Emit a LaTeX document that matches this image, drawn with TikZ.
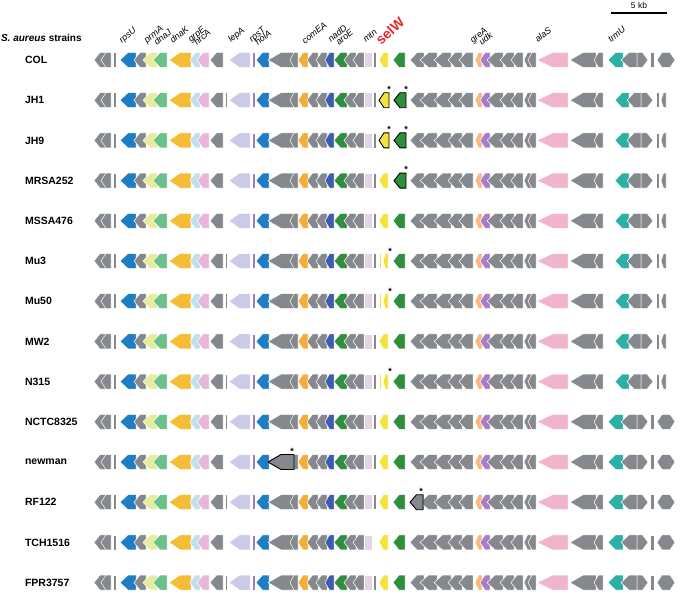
\documentclass[tikz,border=0pt]{standalone}
\usepackage{fontspec}
\setsansfont{Liberation Sans}
\usetikzlibrary{positioning,calc}
\definecolor{GeneGray}{HTML}{85888D}
\definecolor{GeneBlue}{HTML}{1F7DC4}
\definecolor{GeneLime}{HTML}{E6EC9C}
\definecolor{GeneMint}{HTML}{6CC18A}
\definecolor{GeneGold}{HTML}{F5BD36}
\definecolor{GeneIce}{HTML}{BFE1EB}
\definecolor{GenePink}{HTML}{E8B6D6}
\definecolor{GeneLilac}{HTML}{CBCAE8}
\definecolor{GenePurple}{HTML}{9C7EC8}
\definecolor{GeneOrange}{HTML}{F2AE36}
\definecolor{GeneNavy}{HTML}{3D5CAD}
\definecolor{GeneGreen}{HTML}{2F8F3E}
\definecolor{GeneMauve}{HTML}{E3D5E8}
\definecolor{GeneYellow}{HTML}{F3E33B}
\definecolor{GenePeach}{HTML}{F8BA7C}
\definecolor{GeneViolet}{HTML}{A87CC8}
\definecolor{GeneRose}{HTML}{F0B5CC}
\definecolor{GeneTeal}{HTML}{2CB0A6}
\definecolor{SelRed}{HTML}{E8282E}
\tikzset{
    % gene arrows
    gene/.style={
        draw=white,
        line width=0.5pt,
        line join=miter
    },
    gene mutant/.style={
        draw=black,
        line width=0.9pt
    },
    strain/.style={
        anchor=west,
        font=\sffamily\bfseries\fontsize{10.5}{12}\selectfont
    },
    gene label/.style={
        anchor=base west,
        rotate=40,
        inner sep=0pt,
        font=\sffamily\itshape\fontsize{9}{10}\selectfont
    },
    star mark/.style={
        inner sep=0pt,
        font=\sffamily\bfseries\fontsize{9}{9}\selectfont
    }
}
% left-pointing gene: [style]{x1}{x2}{y}{colour}
\newcommand{\gene}[5][]{%
    \pgfmathsetmacro{\gh}{min(16,0.5*(#3-#2))}%
    \path[gene,fill=#5,#1] (#2,#4) -- (#2+\gh,#4-7.5) -- (#3,#4-7.5) -- (#3,#4+7.5) -- (#2+\gh,#4+7.5) -- cycle;}
% right-pointing gene
\newcommand{\rgene}[5][]{%
    \pgfmathsetmacro{\gh}{min(16,0.5*(#3-#2))}%
    \path[gene,fill=#5,#1] (#3,#4) -- (#3-\gh,#4-7.5) -- (#2,#4-7.5) -- (#2,#4+7.5) -- (#3-\gh,#4+7.5) -- cycle;}
\newcommand{\gbar}[4]{\path[gene,fill=#4] (#1,#3-7.5) rectangle (#2,#3+7.5);}
% genes shared by all strains
\newcommand{\corerow}[1]{%
    \gene{94}{106}{#1}{GeneGray}
    \gene{101}{111}{#1}{GeneGray}
    \gbar{113.5}{116.5}{#1}{GeneGray}
    \gene{120}{136}{#1}{GeneBlue}
    \gene{134}{146}{#1}{GeneGray}
    \gene{143}{157}{#1}{GeneLime}
    \gene{153}{167}{#1}{GeneMint}
    \gene{169}{191}{#1}{GeneGold}
    \gene{190}{200}{#1}{GeneIce}
    \gene{197}{209}{#1}{GenePink}
    \gene{210}{223}{#1}{GeneGray}
    \gene{229}{250}{#1}{GeneLilac}
    \gbar{252.5}{255.5}{#1}{GenePurple}
    \gene{256}{269}{#1}{GeneBlue}
    \gene{268}{294}{#1}{GeneGray}
    \gene{290}{298}{#1}{GeneGray}
    \gene{298}{308}{#1}{GeneOrange}
    \gene{307}{318}{#1}{GeneGray}
    \gene{316}{327}{#1}{GeneGray}
    \gene{325}{334}{#1}{GeneNavy}
    \gene{334}{347}{#1}{GeneGreen}
    \gene{344}{356}{#1}{GeneGray}
    \gene{353}{364}{#1}{GeneGray}
    \gbar{364}{372}{#1}{GeneMauve}
    \gene{410}{424}{#1}{GeneGray}
    \gene{420}{437}{#1}{GeneGray}
    \gene{434}{451}{#1}{GeneGray}
    \gene{448}{462}{#1}{GeneGray}
    \gene{459}{473}{#1}{GeneGray}
    \gene{475}{482}{#1}{GenePeach}
    \gene{480}{490}{#1}{GeneViolet}
    \gene{487}{503}{#1}{GeneGray}
    \gene{500}{514}{#1}{GeneGray}
    \gene{511}{523}{#1}{GeneGray}
    \gene{524}{531}{#1}{GeneGray}
    \gene{528}{536}{#1}{GeneGray}
    \gene{537}{568}{#1}{GeneRose}
    \gene{570}{596}{#1}{GeneGray}
    \gene{594}{603}{#1}{GeneGray}}
\newcommand{\lepbar}[1]{\gbar{225.5}{227.5}{#1}{GeneGray}}
\newcommand{\mtnbar}[1]{\gbar{373.5}{376}{#1}{GeneGray}}
\newcommand{\selW}[1]{\gene{379}{388}{#1}{GeneYellow}}
\newcommand{\selWfrag}[1]{\gbar{379}{381.5}{#1}{GeneYellow}\gene{383}{388}{#1}{GeneYellow}}
\newcommand{\nextgene}[1]{\gene{393}{405}{#1}{GeneGreen}}
\newcommand{\tailA}[1]{%
    \gene{608}{623}{#1}{GeneTeal}
    \gene{621}{637}{#1}{GeneGray}
    \rgene{637}{648}{#1}{GeneGray}
    \gbar{650}{654}{#1}{GeneGray}
    \path[gene,fill=GeneGray] (657,#1) -- (662,#1-7.5) -- (670,#1-7.5) -- (675,#1) -- (670,#1+7.5) -- (662,#1+7.5) -- cycle;}
\newcommand{\tailB}[1]{%
    \gene{615}{629}{#1}{GeneTeal}
    \gene{627}{641}{#1}{GeneGray}
    \rgene{641}{653}{#1}{GeneGray}
    \gbar{656}{659.5}{#1}{GeneGray}
    \gene{661}{666}{#1}{GeneGray}}

\begin{document}
\begin{tikzpicture}[x=1pt, y=-1pt]
    \useasboundingbox (0,0) rectangle (685,602);

    % Header and scale bar
    \node[strain, font=\sffamily\bfseries\fontsize{10}{12}\selectfont] (header) at (-2.5,38) {\textit{S. aureus} strains};
    \coordinate (scaleL) at (611,13);
    \coordinate (scaleR) at (667,13);
    \draw[line width=1.6pt] (scaleL) -- (scaleR);
    \node[font=\sffamily\fontsize{8.5}{9}\selectfont, above=1pt of $(scaleL)!0.5!(scaleR)$] (scale) {5 kb};

    % Gene names
    \node[gene label] (lrpsU) at (122,44) {rpsU};
    \node[gene label] (lprmA) at (147,44) {prmA};
    \node[gene label] (ldnaJ) at (157,46) {dnaJ};
    \node[gene label] (ldnaK) at (173,44) {dnaK};
    \node[gene label] (lgrpE) at (191,43) {grpE};
    \node[gene label] (lhrcA) at (197,46) {hrcA};
    \node[gene label] (llepA) at (231,43) {lepA};
    \node[gene label] (lrpsT) at (252,43) {rpsT};
    \node[gene label] (lholA) at (258,46) {holA};
    \node[gene label] (lcomEA) at (305,45) {comEA};
    \node[gene label] (lnadD) at (331,43) {nadD};
    \node[gene label] (laroE) at (339,46) {aroE};
    \node[gene label] (lmtn) at (366,43) {mtn};
    \node[gene label, rotate=2, text=SelRed, font=\sffamily\bfseries\fontsize{14}{15}\selectfont] (lselW) at (381,46) {selW};
    \node[gene label] (lgreA) at (473,44) {greA};
    \node[gene label] (ludk) at (482,46) {udk};
    \node[gene label] (lalaS) at (538,43) {alaS};
    \node[gene label] (ltrmU) at (611,43) {trmU};

    % COL
    \node[strain] (col) at (21.5,60) {COL};
    \corerow{60} \mtnbar{60} \selW{60} \nextgene{60} \tailA{60}

    % JH1
    \node[strain] (jh1) at (21.5,100.2) {JH1};
    \corerow{100.2} \lepbar{100.2} \mtnbar{100.2} \tailB{100.2}
    \gene[gene mutant]{379}{389}{100.2}{GeneYellow}
    \gene[gene mutant]{394}{406}{100.2}{GeneGreen}
    \node[star mark] (jh1a) at (389,89.5) {*};
    \node[star mark] (jh1b) at (406,89.5) {*};

    % JH9
    \node[strain] (jh9) at (21.5,140.4) {JH9};
    \corerow{140.4} \mtnbar{140.4} \tailB{140.4}
    \gene[gene mutant]{379}{389}{140.4}{GeneYellow}
    \gene[gene mutant]{394}{406}{140.4}{GeneGreen}
    \node[star mark] (jh9a) at (389,129.7) {*};
    \node[star mark] (jh9b) at (406,129.7) {*};

    % MRSA252
    \node[strain] (mrsa252) at (21.5,180.6) {MRSA252};
    \corerow{180.6} \mtnbar{180.6} \selW{180.6} \tailB{180.6}
    \gene[gene mutant]{394}{406}{180.6}{GeneGreen}
    \node[star mark] (mrsab) at (406,169.9) {*};

    % MSSA476
    \node[strain] (mssa476) at (21.5,220.8) {MSSA476};
    \corerow{220.8} \mtnbar{220.8} \selW{220.8} \nextgene{220.8} \tailB{220.8}

    % Mu3
    \node[strain] (mu3) at (21.5,261) {Mu3};
    \corerow{261} \lepbar{261} \mtnbar{261} \selWfrag{261} \nextgene{261} \tailB{261}
    \node[star mark] (mu3a) at (390,251) {*};

    % Mu50
    \node[strain] (mu50) at (21.5,301.2) {Mu50};
    \corerow{301.2} \lepbar{301.2} \mtnbar{301.2} \selWfrag{301.2} \nextgene{301.2} \tailB{301.2}
    \node[star mark] (mu50a) at (390,291.2) {*};

    % MW2
    \node[strain] (mw2) at (21.5,341.4) {MW2};
    \corerow{341.4} \mtnbar{341.4} \selW{341.4} \nextgene{341.4} \tailB{341.4}

    % N315
    \node[strain] (n315) at (21.5,381.6) {N315};
    \corerow{381.6} \lepbar{381.6} \mtnbar{381.6} \selWfrag{381.6} \nextgene{381.6} \tailB{381.6}
    \node[star mark] (n315a) at (390,371.6) {*};

    % NCTC8325
    \node[strain] (nctc8325) at (21.5,421.8) {NCTC8325};
    \corerow{421.8} \lepbar{421.8} \mtnbar{421.8} \selW{421.8} \nextgene{421.8} \tailA{421.8}

    % newman
    \node[strain] (newman) at (21.5,462) {newman};
    \corerow{462} \mtnbar{462} \selW{462} \nextgene{462} \tailA{462}
    \gene[gene mutant]{268}{294}{462}{GeneGray}
    \node[star mark] (newmana) at (292,451.3) {*};

    % RF122
    \node[strain] (rf122) at (21.5,502.2) {RF122};
    \corerow{502.2} \lepbar{502.2} \mtnbar{502.2} \selW{502.2} \nextgene{502.2} \tailA{502.2}
    \gene[gene mutant]{410}{423}{502.2}{GeneGray}
    \node[star mark] (rf122a) at (421,491.5) {*};

    % TCH1516
    \node[strain] (tch1516) at (21.5,542.4) {TCH1516};
    \corerow{542.4} \selW{542.4} \nextgene{542.4} \tailA{542.4}

    % FPR3757
    \node[strain] (fpr3757) at (21.5,582.6) {FPR3757};
    \corerow{582.6} \lepbar{582.6} \mtnbar{582.6} \selW{582.6} \nextgene{582.6} \tailA{582.6}
\end{tikzpicture}
\end{document}
